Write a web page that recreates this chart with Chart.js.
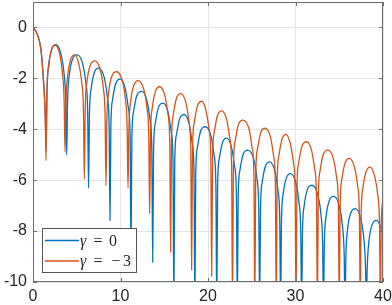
<!DOCTYPE html>
<html>
<head>
<meta charset="utf-8">
<script src="https://cdn.jsdelivr.net/npm/chart.js@4"></script>
<style>
  html, body { margin: 0; padding: 0; background: #fff; }
  #wrap { width: 392px; height: 305px; position: relative; }
</style>
</head>
<body>
<div id="wrap"><canvas id="chart"></canvas></div>
<script>
// ─── data ──────────────────────────────────────────────────
const xTicks = [0, 10, 20, 30, 40];
const yTicks = [-10, -8, -6, -4, -2, 0];
const seriesLabels = ['γ = 0', 'γ = −3'];

// γ = 0 (blue)
const gamma0X = [
  0, 0.4, 0.9, 1.2, 1.4, 1.5,
  1.6, 1.8, 2.15, 2.65, 3.2, 3.55, 3.75, 3.85,
  3.95, 4.15, 4.5, 5.05, 5.7, 6.05, 6.25, 6.35,
  6.45, 6.65, 7.0, 7.5, 8.15, 8.5, 8.7, 8.8,
  8.9, 9.1, 9.45, 9.97, 10.55, 10.9, 11.1, 11.2,
  11.3, 11.5, 11.85, 12.45, 13.03, 13.38, 13.58, 13.68,
  13.78, 13.98, 14.33, 14.88, 15.45, 15.8, 16.0, 16.1,
  16.2, 16.4, 16.75, 17.3, 17.85, 18.2, 18.4, 18.5,
  18.6, 18.8, 19.15, 19.72, 20.35, 20.7, 20.9, 21.0,
  21.1, 21.3, 21.65, 22.15, 22.7, 23.05, 23.25, 23.35,
  23.45, 23.65, 24.0, 24.55, 25.25, 25.6, 25.8, 25.9,
  26.0, 26.2, 26.55, 27.05, 27.65, 28.0, 28.2, 28.3,
  28.4, 28.6, 28.95, 29.45, 30.05, 30.4, 30.6, 30.7,
  30.8, 31.0, 31.35, 31.9, 32.55, 32.9, 33.1, 33.2,
  33.3, 33.5, 33.85, 34.38, 35.01, 35.36, 35.56, 35.66,
  35.76, 35.96, 36.31, 36.85, 37.45, 37.8, 38.0, 38.1,
  38.2, 38.4, 38.75, 39.28, 39.7, 40
];
const gamma0Y = [
  0, -0.2, -0.85, -2.1, -3.4, -4.8,
  -2.52, -1.47, -0.86, -0.68, -1.06, -1.81, -2.94, -5.0,
  -2.92, -1.87, -1.26, -1.08, -1.46, -2.21, -3.34, -6.31,
  -3.44, -2.39, -1.78, -1.6, -1.98, -2.73, -3.86, -7.58,
  -3.87, -2.82, -2.21, -2.03, -2.41, -3.16, -4.29, -9.0,
  -4.35, -3.3, -2.69, -2.51, -2.89, -3.64, -4.77, -9.22,
  -4.81, -3.76, -3.15, -2.97, -3.35, -4.1, -5.23, -11,
  -5.26, -4.21, -3.6, -3.42, -3.8, -4.55, -5.68, -11,
  -5.74, -4.69, -4.08, -3.9, -4.28, -5.03, -6.16, -11,
  -6.19, -5.14, -4.53, -4.35, -4.73, -5.48, -6.61, -11,
  -6.66, -5.61, -5.0, -4.82, -5.2, -5.95, -7.08, -11,
  -7.12, -6.07, -5.46, -5.28, -5.66, -6.41, -7.54, -11,
  -7.58, -6.53, -5.92, -5.74, -6.12, -6.87, -8.0, -11,
  -8.04, -6.99, -6.38, -6.2, -6.58, -7.33, -8.46, -11,
  -8.48, -7.43, -6.82, -6.64, -7.02, -7.77, -8.9, -11,
  -8.96, -7.91, -7.3, -7.12, -7.5, -8.25, -9.38, -11,
  -9.42, -8.37, -7.76, -7.58, -7.8, -8.1
];

// γ = −3 (orange)
const gamma3X = [
  0, 0.4, 0.9, 1.2, 1.4, 1.49,
  1.59, 1.79, 2.1, 2.53, 3.05, 3.36, 3.56, 3.66,
  3.76, 3.96, 4.28, 4.74, 5.24, 5.57, 5.77, 5.87,
  5.97, 6.17, 6.52, 7.05, 7.69, 8.04, 8.24, 8.34,
  8.44, 8.64, 8.99, 9.55, 10.21, 10.56, 10.76, 10.86,
  10.96, 11.16, 11.51, 12.0, 12.68, 13.03, 13.23, 13.33,
  13.43, 13.63, 13.98, 14.47, 15.08, 15.43, 15.63, 15.73,
  15.83, 16.03, 16.38, 16.87, 17.48, 17.83, 18.03, 18.13,
  18.23, 18.43, 18.78, 19.28, 19.77, 20.12, 20.32, 20.42,
  20.52, 20.72, 21.07, 21.55, 22.15, 22.5, 22.7, 22.8,
  22.9, 23.1, 23.45, 23.95, 24.7, 25.05, 25.25, 25.35,
  25.45, 25.65, 26.0, 26.5, 27.15, 27.5, 27.7, 27.8,
  27.9, 28.1, 28.45, 28.88, 29.41, 29.76, 29.96, 30.06,
  30.16, 30.36, 30.71, 31.28, 31.85, 32.2, 32.4, 32.5,
  32.6, 32.8, 33.15, 33.7, 34.35, 34.7, 34.9, 35.0,
  35.1, 35.3, 35.65, 36.15, 36.75, 37.1, 37.3, 37.4,
  37.5, 37.7, 38.05, 38.5, 39.05, 39.4, 39.6, 39.7,
  39.8, 40
];
const gamma3Y = [
  0, -0.2, -0.85, -2.1, -3.5, -5.23,
  -2.59, -1.52, -0.89, -0.69, -1.05, -1.78, -2.89, -4.88,
  -2.98, -1.91, -1.28, -1.08, -1.44, -2.17, -3.28, -5.96,
  -3.21, -2.14, -1.51, -1.31, -1.67, -2.4, -3.51, -6.21,
  -3.64, -2.57, -1.94, -1.74, -2.1, -2.83, -3.94, -6.31,
  -3.99, -2.92, -2.29, -2.09, -2.45, -3.18, -4.29, -7.32,
  -4.23, -3.16, -2.53, -2.33, -2.69, -3.42, -4.53, -8.83,
  -4.5, -3.43, -2.8, -2.6, -2.96, -3.69, -4.8, -9.53,
  -4.8, -3.73, -3.1, -2.9, -3.26, -3.99, -5.1, -9.77,
  -5.18, -4.11, -3.48, -3.28, -3.64, -4.37, -5.48, -11,
  -5.54, -4.47, -3.84, -3.64, -4.0, -4.73, -5.84, -11,
  -5.86, -4.79, -4.16, -3.96, -4.32, -5.05, -6.16, -11,
  -6.1, -5.03, -4.4, -4.2, -4.56, -5.29, -6.4, -11,
  -6.39, -5.32, -4.69, -4.49, -4.85, -5.58, -6.69, -11,
  -6.72, -5.65, -5.02, -4.82, -5.18, -5.91, -7.02, -11,
  -7.04, -5.97, -5.34, -5.14, -5.5, -6.23, -7.34, -11,
  -7.39, -6.32, -5.69, -5.49, -5.85, -6.58, -7.69, -11,
  -7.75, -6.75
];

const colors = { blue: '#0072BD', orange: '#D95319' };
const axisColor = '#6e6e6e';
const gridColor = '#e4e4e4';
const textColor = '#262626';
const sansFont = "'Liberation Sans', Arial, Helvetica, sans-serif";
const serifFont = "'Liberation Serif', 'DejaVu Serif', serif";

function toPoints(xs, ys) {
    const n = Math.min(xs.length, ys.length);
    const out = [];
    for (let i = 0; i < n; i++) out.push({ x: xs[i], y: ys[i] });
    return out;
}

// ─── box, inward ticks and legend (MATLAB look) ─────────────
const matlabFrame = {
    id: 'matlabFrame',
    afterDatasetsDraw(chart) {
        const { ctx, chartArea: a, scales } = chart;
        const sx = scales.x, sy = scales.y;
        ctx.save();
        ctx.strokeStyle = axisColor;
        ctx.lineWidth = 1;
        ctx.beginPath();
        xTicks.forEach(v => {
            const px = Math.round(sx.getPixelForValue(v)) + 0.5;
            ctx.moveTo(px, a.bottom); ctx.lineTo(px, a.bottom - 4);
            ctx.moveTo(px, a.top); ctx.lineTo(px, a.top + 4);
        });
        yTicks.forEach(v => {
            const py = Math.round(sy.getPixelForValue(v)) + 0.5;
            ctx.moveTo(a.left, py); ctx.lineTo(a.left + 4, py);
            ctx.moveTo(a.right, py); ctx.lineTo(a.right - 4, py);
        });
        ctx.stroke();
        ctx.strokeRect(a.left + 0.5, a.top + 0.5, a.width - 1, a.height - 1);

        // legend box, lower left
        const bx = 42, by = 228, bw = 95, bh = 45;
        ctx.fillStyle = '#fff';
        ctx.fillRect(bx, by, bw, bh);
        ctx.strokeStyle = '#555';
        ctx.strokeRect(bx + 0.5, by + 0.5, bw - 1, bh - 1);

        const rows = [240.5, 261];
        chart.data.datasets.forEach((ds, i) => {
            const ry = rows[i];
            ctx.strokeStyle = ds.borderColor;
            ctx.lineWidth = 1.3;
            ctx.beginPath();
            ctx.moveTo(45, ry); ctx.lineTo(79, ry);
            ctx.stroke();

            const parts = ds.label.split(' ');
            ctx.fillStyle = textColor;
            ctx.textBaseline = 'middle';
            ctx.font = 'italic 16px ' + serifFont;
            ctx.textAlign = 'left';
            ctx.fillText(parts[0], 80, ry + 1);
            ctx.font = '16px ' + serifFont;
            ctx.textAlign = 'center';
            ctx.fillText(parts[1], 98, ry + 1);
            const val = parts[2];
            if (val.startsWith('−')) {
                ctx.fillText('−', 116, ry + 1);
                ctx.fillText(val.slice(1), 127, ry + 1);
            } else {
                ctx.fillText(val, 113, ry + 1);
            }
        });
        ctx.restore();
    }
};

new Chart(document.getElementById('chart'), {
    type: 'line',
    data: {
        datasets: [
            {
                label: seriesLabels[0],
                data: toPoints(gamma0X, gamma0Y),
                borderColor: colors.blue,
                borderWidth: 1.3,
                order: 2
            },
            {
                label: seriesLabels[1],
                data: toPoints(gamma3X, gamma3Y),
                borderColor: colors.orange,
                borderWidth: 1.3,
                order: 1
            }
        ]
    },
    options: {
        responsive: true,
        maintainAspectRatio: false,
        animation: false,
        layout: { padding: { left: 0, right: 9, top: 2, bottom: 0 } },
        elements: {
            point: { radius: 0 },
            line: { fill: false, cubicInterpolationMode: 'monotone' }
        },
        plugins: {
            legend: { display: false },
            tooltip: { enabled: false }
        },
        scales: {
            x: {
                type: 'linear',
                min: 0,
                max: 40,
                afterBuildTicks: s => { s.ticks = xTicks.map(v => ({ value: v })); },
                afterFit: s => { s.height = 23; s.paddingLeft = 0; s.paddingRight = 0; },
                grid: { color: gridColor, drawTicks: false },
                border: { display: false },
                ticks: { color: textColor, font: { family: sansFont, size: 16 }, padding: 5, maxRotation: 0, autoSkip: false }
            },
            y: {
                type: 'linear',
                min: -10,
                max: 1,
                afterBuildTicks: s => { s.ticks = yTicks.map(v => ({ value: v })); },
                afterFit: s => { s.width = 33; s.paddingTop = 0; s.paddingBottom = 0; },
                grid: { color: gridColor, drawTicks: false },
                border: { display: false },
                ticks: { color: textColor, font: { family: sansFont, size: 16 }, padding: 6, autoSkip: false }
            }
        }
    },
    plugins: [matlabFrame]
});
</script>
</body>
</html>
